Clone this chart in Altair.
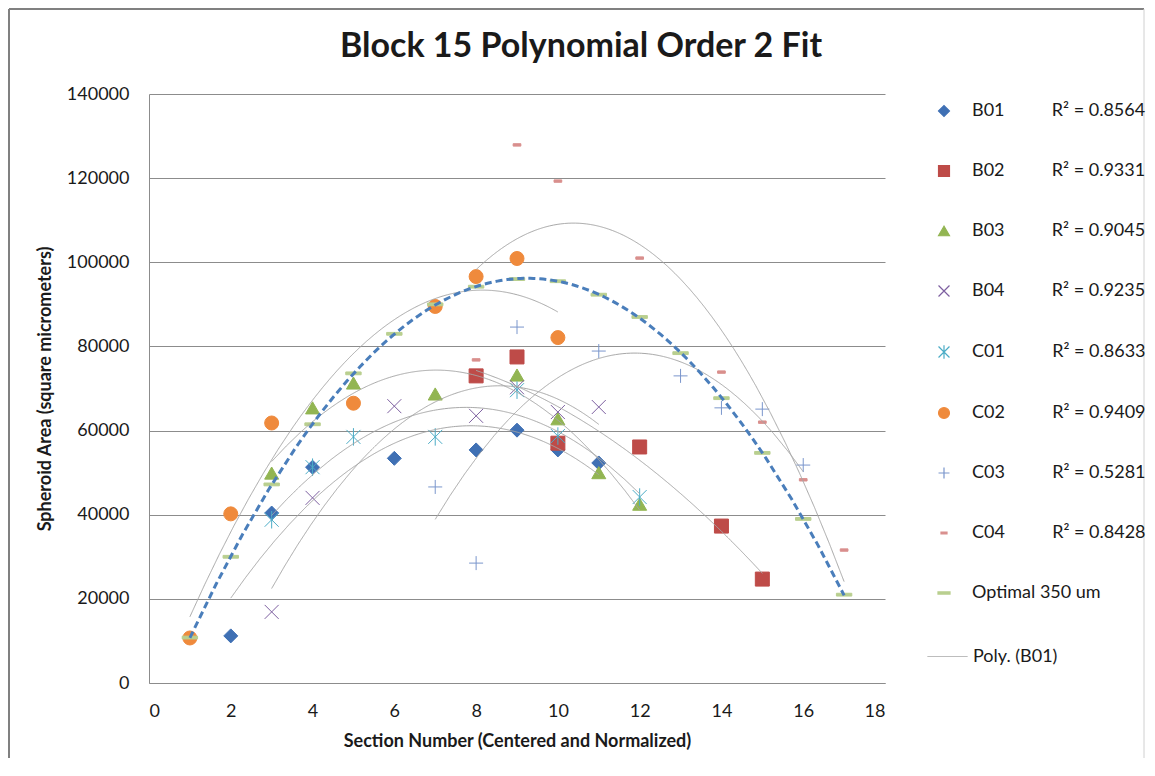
import altair as alt
import pandas as pd

# ---------------- data ----------------
series_names = ["B01", "B02", "B03", "B04", "C01", "C02", "C03", "C04", "Optimal 350 um"]
r_squared = ["0.8564", "0.9331", "0.9045", "0.9235", "0.8633", "0.9409", "0.5281", "0.8428", ""]

B01_x = [2, 3, 4, 6, 8, 9, 10, 11]
B01_y = [11200, 40400, 51300, 53400, 55400, 60100, 55400, 52300]
B02_x = [8, 9, 10, 12, 14, 15]
B02_y = [73000, 77500, 57000, 56100, 37300, 24700]
B03_x = [3, 4, 5, 7, 9, 10, 11, 12]
B03_y = [49900, 65400, 71300, 68700, 73200, 62800, 50000, 42500]
B04_x = [3, 4, 6, 8, 9, 10, 11]
B04_y = [16900, 44000, 65800, 63500, 70300, 64400, 65600]
C01_x = [3, 4, 5, 7, 9, 10, 12]
C01_y = [38800, 51300, 58500, 58500, 69600, 58700, 44200]
C02_x = [1, 2, 3, 5, 7, 8, 9, 10]
C02_y = [10700, 40200, 61800, 66500, 89500, 96600, 100900, 82100]
C03_x = [7, 8, 9, 11, 13, 14, 15, 16]
C03_y = [46600, 28500, 84600, 78900, 73000, 65400, 65100, 51800]
C04_x = [8, 9, 10, 12, 14, 15, 16, 17]
C04_y = [76800, 127900, 119300, 101000, 73900, 62000, 48300, 31600]
OPT_x = [1, 2, 3, 4, 5, 6, 7, 8, 9, 10, 11, 12, 13, 14, 15, 16, 17]
OPT_y = [10800, 30000, 47200, 61500, 73600, 83000, 90000, 94200, 96000,
         95500, 92300, 87000, 78400, 67700, 54700, 39000, 21000]

x_ticks = [0, 2, 4, 6, 8, 10, 12, 14, 16, 18]
y_ticks = [0, 20000, 40000, 60000, 80000, 100000, 120000, 140000]

colors = ["#3f70b4", "#be4b48", "#92b552", "#7d5fa0", "#4bacc6",
          "#ef8a3c", "#7a96cc", "#d98f8d", "#b9cf8f"]
shapes = [
    "diamond",
    "square",
    "triangle-up",
    "M-1,-1L1,1M-1,1L1,-1",
    "M-1,-1L1,1M-1,1L1,-1M0,-1.25L0,1.25",
    "circle",
    "M-1,0L1,0M0,-1L0,1",
    "M-0.55,-0.17L0.55,-0.17L0.55,0.17L-0.55,0.17Z",
    "M-1.1,-0.2L1.1,-0.2L1.1,0.2L-1.1,0.2Z",
]

# ---------------- build table ----------------
xs = [B01_x, B02_x, B03_x, B04_x, C01_x, C02_x, C03_x, C04_x, OPT_x]
ys = [B01_y, B02_y, B03_y, B04_y, C01_y, C02_y, C03_y, C04_y, OPT_y]
rows = []
for name, sx, sy in zip(series_names, xs, ys):
    for a, b in zip(sx, sy):
        rows.append({"series": name, "x": a, "y": b})
df = pd.DataFrame(rows)

# legend labels with R^2 values
pad = "\u2003\u2003\u2002\u2002\u2009"
expr = "datum.label"
for n, r in zip(series_names, r_squared):
    if r:
        expr = f"datum.label === '{n}' ? '{n}{pad}R\u00b2 = {r}' : (" + expr + ")"

FONT = "Lato"
TXT = "#1a1a1a"
GRID = "#8c8c8c"

X = alt.X("x:Q", scale=alt.Scale(domain=[0, 18], nice=False),
          axis=alt.Axis(title="Section Number (Centered and Normalized)", values=x_ticks,
                        grid=False, ticks=False, labelPadding=19, titlePadding=12))
Y = alt.Y("y:Q", scale=alt.Scale(domain=[0, 140000], nice=False),
          axis=alt.Axis(title="Spheroid Area (square micrometers)", values=y_ticks, format="d",
                        grid=True, ticks=False, labelPadding=20, titlePadding=12))

leg = alt.Legend(orient="none", legendX=786, legendY=8, title=None, padding=0,
                 symbolSize=120, symbolStrokeWidth=1.2, labelOffset=19, rowPadding=42,
                 labelFontSize=18, labelFont=FONT, labelColor=TXT, labelExpr=expr,
                 labelLimit=400)

points = alt.Chart(df).mark_point(filled=True, size=196, strokeWidth=1, opacity=1).encode(
    x=X, y=Y,
    fill=alt.Fill("series:N", scale=alt.Scale(domain=series_names, range=colors), legend=leg),
    stroke=alt.Stroke("series:N", scale=alt.Scale(domain=series_names, range=colors), legend=leg),
    shape=alt.Shape("series:N", scale=alt.Scale(domain=series_names, range=shapes), legend=leg),
)

trends = alt.Chart(df).transform_filter(
    alt.datum.series != "Optimal 350 um"
).transform_regression(
    "x", "y", groupby=["series"], method="poly", order=2
).transform_calculate(
    poly="'Poly. (B01)'"
).mark_line(strokeWidth=1, color="#a6a6a6").encode(
    x=X, y=Y, detail="series:N",
    strokeDash=alt.StrokeDash("poly:N", scale=alt.Scale(range=[[1, 0]]),
                              legend=alt.Legend(orient="none", legendX=778, legendY=542, title=None,
                                                padding=0, symbolType="stroke", symbolSize=1600,
                                                symbolStrokeColor="#a6a6a6", symbolStrokeWidth=1,
                                                labelOffset=5, labelFontSize=18, labelFont=FONT,
                                                labelColor=TXT)),
)

optimal_fit = alt.Chart(df).transform_filter(
    alt.datum.series == "Optimal 350 um"
).transform_regression(
    "x", "y", method="poly", order=2
).mark_line(strokeWidth=3, color="#4a7ebb", strokeDash=[7, 4]).encode(x=X, y=Y)

one = pd.DataFrame({"k": [0]})
BORDER = "#808080"
left = alt.Chart(one).mark_rule(color=BORDER, strokeWidth=2).encode(
    x=alt.value(-140), y=alt.value(-85), y2=alt.value(664))
top = alt.Chart(one).mark_rule(color=BORDER, strokeWidth=2).encode(
    x=alt.value(-140), x2=alt.value(995), y=alt.value(-85))
right = alt.Chart(one).mark_rule(color="#d0d0d0", strokeWidth=1).encode(
    x=alt.value(995), y=alt.value(-85), y2=alt.value(664))

chart = alt.layer(points, trends, optimal_fit, left, top, right).properties(
    width=736, height=589, padding=0,
    title=alt.Title("Block 15 Polynomial Order 2 Fit", fontSize=34, font=FONT, fontWeight="bold",
                    color=TXT, anchor="middle", frame="group", dx=64, offset=-56),
).configure_view(strokeWidth=0).configure_axis(
    labelFont=FONT, labelFontSize=18, labelColor=TXT,
    titleFont=FONT, titleFontSize=18, titleFontWeight="bold", titleColor=TXT,
    domainColor=GRID, gridColor=GRID, domainWidth=1, gridWidth=1,
)

chart.save("out.html", embed_options={"renderer": "svg", "actions": False})
